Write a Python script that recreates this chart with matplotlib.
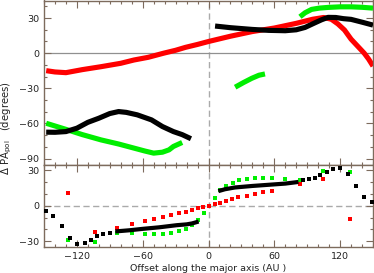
import matplotlib
matplotlib.use("Agg")
import matplotlib.pyplot as plt
from matplotlib.ticker import MultipleLocator

# ---------------- data ----------------
# top panel: Delta PA_pol curves
red_top_x = [-148, -140, -130, -115, -98, -80, -68, -55, -41, -30, -21, -10, 0, 20, 40, 60, 80, 95, 105, 112, 118, 124, 130, 136, 142, 146, 150]
red_top_y = [-14.9, -16.0, -16.6, -14.0, -11.5, -8.6, -5.8, -3.5, 0.0, 2.5, 5.0, 7.5, 10.0, 14.5, 18.5, 21.5, 25.5, 29.0, 30.5, 29.0, 25.0, 19.8, 12.0, 6.0, 0.0, -5.0, -11.0]

blk_top1_x = [-148, -140, -130, -120, -110, -100, -90, -82, -75, -65, -52, -42, -32, -24, -16]
blk_top1_y = [-67.4, -67.5, -66.9, -64.0, -59.0, -55.5, -51.5, -49.8, -50.5, -52.6, -56.9, -62.6, -66.9, -69.5, -73.0]

blk_top2_x = [6, 20, 40, 55, 70, 80, 88, 96, 103, 109, 116, 123, 130, 140, 150]
blk_top2_y = [23.2, 21.8, 20.3, 19.5, 19.2, 20.0, 22.0, 25.5, 28.5, 30.6, 30.5, 29.5, 28.9, 26.5, 24.0]

grn_top1_x = [-148, -130, -115, -98, -82, -68, -58, -50, -42, -36, -32, -24]
grn_top1_y = [-59.8, -65.0, -69.5, -74.0, -77.5, -81.0, -83.5, -85.3, -84.5, -82.5, -79.6, -76.2]

grn_top2_x = [24.3, 32, 39.5, 46, 51.5]
grn_top2_y = [-29.0, -25.0, -21.4, -18.8, -17.7]

grn_top3_x = [83.4, 88, 94, 101, 109, 120, 130, 140, 150]
grn_top3_y = [31.1, 34.5, 37.4, 38.5, 39.1, 39.6, 39.6, 39.2, 38.5]

# bottom panel: points
red_bot_x = [-127.8, -103.6, -83.3, -69.6, -57.5, -49.4, -41.8, -34.2, -26.6, -20.5, -15, -10, -5, 0, 5.5, 10.6, 16, 21.3, 27.3, 35, 42.5, 50, 58.2, 83.4, 104.5, 128.8]
red_bot_y = [10.9, -22.6, -19.0, -15.4, -12.6, -10.9, -9.2, -7.8, -6.4, -5.0, -3.6, -2.2, -0.8, 0.0, 1.2, 2.5, 3.9, 5.4, 7.1, 8.5, 9.8, 11.3, 12.6, 18.8, 22.4, -11.2]

grn_bot_x = [-127.8, -103.6, -83.3, -69.6, -57.5, -49.4, -41.8, -34.2, -26.6, -20.5, -15, -9.6, -4.5, 5.5, 10.6, 16, 22, 28, 35, 42.5, 50, 58.2, 70, 83.4, 104.5, 128.8]
grn_bot_y = [-28.8, -30.8, -22.7, -23.5, -24.0, -24.0, -24.0, -23.5, -21.2, -19.6, -16.4, -12.0, -6.4, 6.2, 13.2, 16.6, 19.4, 21.6, 23.0, 23.8, 23.8, 23.5, 23.0, 22.2, 29.4, 28.6]

blk_bot_sparse_x = [-148.5, -141.5, -134, -126.6, -119.6, -113, -107, -101.5, -96, -90,
                    86.6, 91.5, 96.7, 102, 107.6, 113.6, 120.3, 127.3, 134.3, 141.5, 149.4]
blk_bot_sparse_y = [-4.2, -8.6, -17.0, -27.7, -32.5, -31.6, -29.0, -26.0, -24.3, -22.9,
                    21.6, 22.4, 23.8, 26.0, 28.3, 30.8, 31.9, 27.2, 16.6, 7.6, 2.9]

blk_bot_dense1_x = [-85, -72, -60, -45, -29, -20, -15, -9]
blk_bot_dense1_y = [-21.8, -20.8, -19.6, -18.3, -16.5, -15.8, -15.0, -13.4]

blk_bot_dense2_x = [9, 15, 24, 40, 55, 70, 82]
blk_bot_dense2_y = [12.4, 14.0, 15.5, 16.8, 17.8, 18.8, 20.2]

x_ticks = [-120, -60, 0, 60, 120]
top_yticks = [30, 0, -30, -60, -90]
bot_yticks = [30, 0, -30]

# ---------------- style ----------------
RED = "#ff0000"
GRN = "#00ee00"
BLK = "#000000"
FRAME = "#7d6b5d"
plt.rcParams["font.family"] = ["DejaVu Sans"]
FS = 6.8

fig = plt.figure(figsize=(3.74, 2.73), dpi=100)
ax1 = fig.add_axes([44/374, 1-164.5/273, 329/374, 164.0/273])
ax2 = fig.add_axes([44/374, 1-247/273, 329/374, 82.5/273])

for ax in (ax1, ax2):
    ax.set_xlim(-150, 150)
    ax.xaxis.set_major_locator(MultipleLocator(60))
    ax.xaxis.set_minor_locator(MultipleLocator(10))
    ax.yaxis.set_major_locator(MultipleLocator(30))
    ax.yaxis.set_minor_locator(MultipleLocator(10))
    ax.tick_params(which="both", direction="in", top=True, right=True,
                   color=FRAME, labelsize=FS, labelcolor="#222222", width=0.8)
    ax.tick_params(which="major", length=5)
    ax.tick_params(which="minor", length=2.5)
    for s in ax.spines.values():
        s.set_color(FRAME)
        s.set_linewidth(1.0)
    ax.axvline(0, color="#aaaaaa", lw=1.0, ls=(0, (4.5, 2.5)), zorder=1)

ax1.set_ylim(-95, 45)
ax1.set_yticks(top_yticks)
ax1.tick_params(labelbottom=False)
ax1.axhline(0, color="#909090", lw=0.9, zorder=1)

lw = 3.7
ax1.plot(red_top_x, red_top_y, color=RED, lw=lw, solid_capstyle="butt", zorder=2)
for xs, ys in ((grn_top1_x, grn_top1_y), (grn_top2_x, grn_top2_y), (grn_top3_x, grn_top3_y)):
    ax1.plot(xs, ys, color=GRN, lw=lw, solid_capstyle="butt", zorder=3)
for xs, ys in ((blk_top1_x, blk_top1_y), (blk_top2_x, blk_top2_y)):
    ax1.plot(xs, ys, color=BLK, lw=lw, solid_capstyle="butt", zorder=4)

ax2.set_ylim(-35, 35)
ax2.set_yticks(bot_yticks)
ax2.set_xticks(x_ticks)
ax2.axhline(0, color="#aaaaaa", lw=1.0, ls=(0, (4.5, 2.5)), zorder=1)
ms = 3.0
ax2.plot(red_bot_x, red_bot_y, "s", color=RED, ms=ms, mew=0, zorder=2)
ax2.plot(grn_bot_x, grn_bot_y, "s", color=GRN, ms=ms, mew=0, zorder=3)
ax2.plot(blk_bot_sparse_x, blk_bot_sparse_y, "s", color=BLK, ms=ms, mew=0, zorder=4)
for xs, ys in ((blk_bot_dense1_x, blk_bot_dense1_y), (blk_bot_dense2_x, blk_bot_dense2_y)):
    ax2.plot(xs, ys, color=BLK, lw=3.0, solid_capstyle="butt", zorder=4)

fig.text(208.5/374, 1-268.5/273, "Offset along the major axis (AU )", ha="center", va="center",
         fontsize=FS, color="#222222")
fig.text(7/374, 1-128/273, r"$\Delta$ PA$_{\rm pol}$   (degrees)", rotation=90, ha="center", va="center",
         fontsize=7.3, color="#222222")

fig.savefig("out.png", dpi=100)
